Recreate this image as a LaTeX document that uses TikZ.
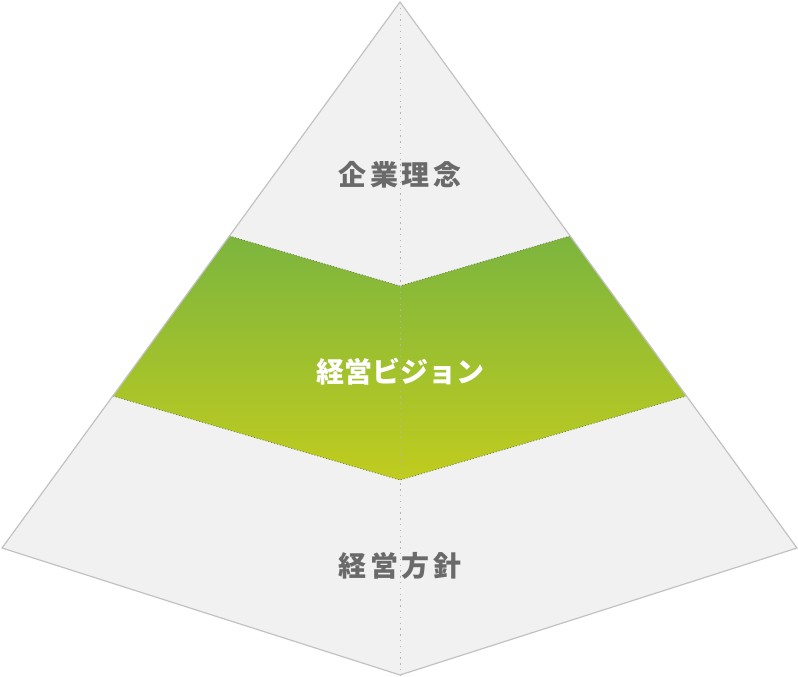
\documentclass[tikz,border=0pt]{standalone}
\usepackage{fontspec}
\usetikzlibrary{calc}
\newfontfamily\jp{Noto Sans CJK JP}[LetterSpace=12]
\newfontfamily\jpn{Noto Sans CJK JP}[LetterSpace=0]
\definecolor{pyfill}{HTML}{F1F1F1}
\definecolor{pyline}{HTML}{C2C2C2}
\definecolor{axisline}{HTML}{B4B4B4}
\definecolor{bandline}{HTML}{6E7A50}
\definecolor{gtop}{HTML}{7CB53E}
\definecolor{gbot}{HTML}{C1CC1E}
\definecolor{txtgray}{HTML}{6A6A6A}
\tikzset{
  label/.style={font=\jp\bfseries\fontsize{28}{28}\selectfont, inner sep=0pt, anchor=center},
  labelkana/.style={font=\jpn\bfseries\fontsize{28}{28}\selectfont, inner sep=0pt, anchor=center},
  bandedge/.style={draw=bandline, line width=0.8pt, dash pattern=on 1pt off 2pt},
}
\begin{document}
\begin{tikzpicture}[x=1pt,y=-1pt]
\useasboundingbox (0,0) rectangle (798,677);
\coordinate (A) at (400,2);
\coordinate (L) at (2,548);
\coordinate (R) at (797,548);
\coordinate (B) at (400,675);
\coordinate (TL) at ($(A)!0.4286!(L)$);
\coordinate (TR) at ($(A)!0.4286!(R)$);
\coordinate (TM) at (400,286);
\coordinate (BL) at ($(A)!0.7216!(L)$);
\coordinate (BR) at ($(A)!0.7216!(R)$);
\coordinate (BM) at (400,480);
% pyramid body
\fill[pyfill] (A) -- (L) -- (B) -- (R) -- cycle;
% green band
\shade[top color=gtop, bottom color=gbot] (TL) -- (TM) -- (TR) -- (BR) -- (BM) -- (BL) -- cycle;
\draw[bandedge] (TL) -- (TM) -- (TR);
\draw[bandedge] (BL) -- (BM) -- (BR);
% centre axis
\draw[axisline, line width=1pt, dash pattern=on 1.3pt off 4.5pt] (A) -- (B);
% outline
\draw[pyline, line width=1.2pt, line join=miter] (A) -- (L) -- (B) -- (R) -- cycle;
% labels
\node[label, text=txtgray] (t1) at (400,175) {企業理念};
\node[labelkana, text=white] (t2) at (400,372) {経営ビジョン};
\node[label, text=txtgray] (t3) at (400,566) {経営方針};
\end{tikzpicture}
\end{document}
